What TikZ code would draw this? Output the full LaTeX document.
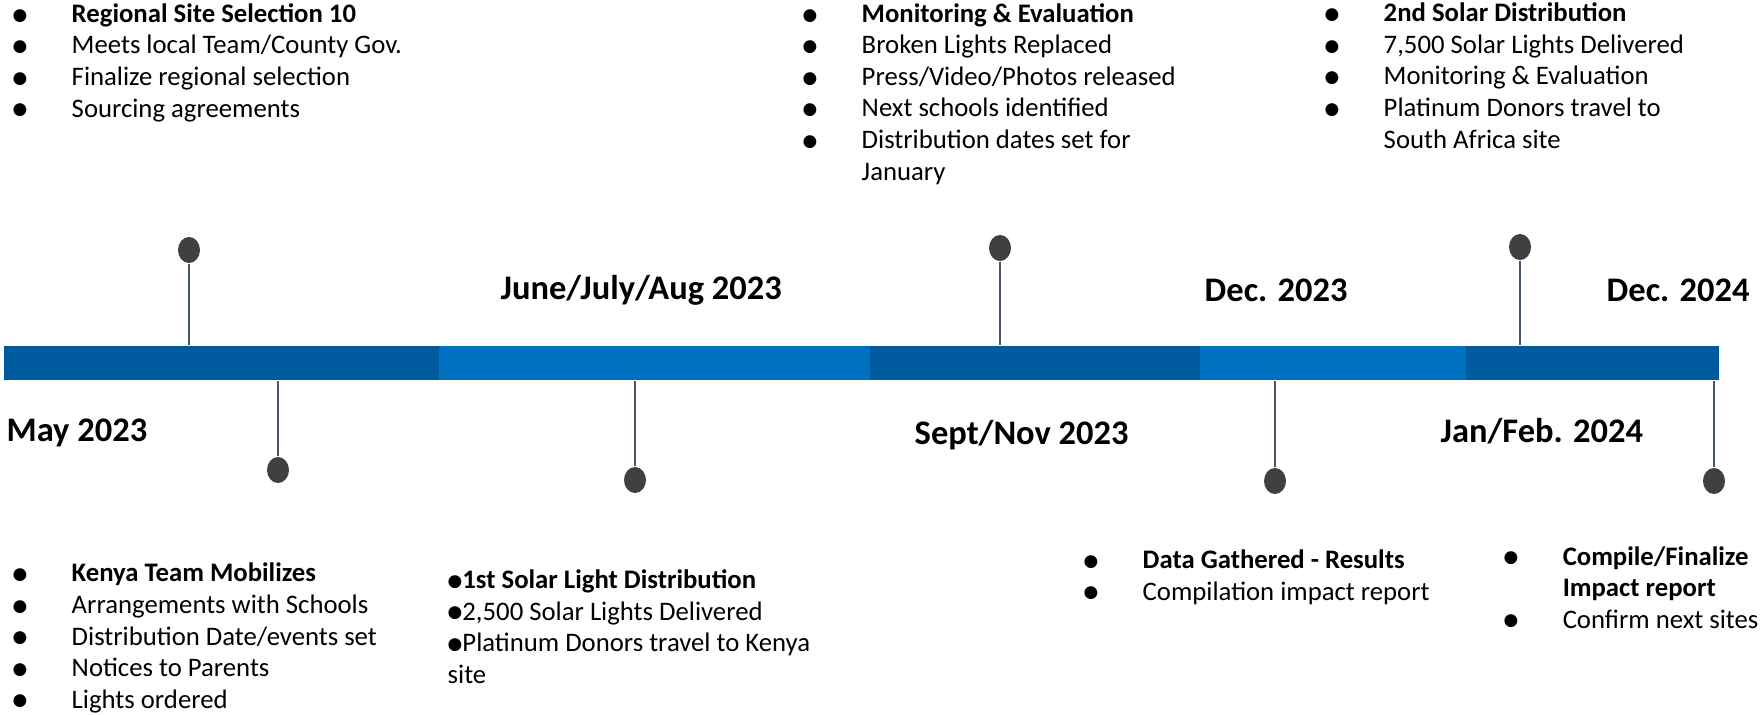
\documentclass[tikz,border=0pt]{standalone}
\usepackage{fontspec}
\setmainfont{Carlito}
\newfontfamily\symfont{DejaVu Sans}
\usetikzlibrary{shapes.geometric}
\definecolor{segdark}{HTML}{005A9E}
\definecolor{seglight}{HTML}{0070C0}
\definecolor{dotgray}{HTML}{404040}
\definecolor{stemgray}{HTML}{44546A}
\newcommand{\bul}{\raisebox{0.7pt}{\symfont\fontsize{4.8}{5}\selectfont ●}}
\newcommand{\itm}[1]{\makebox[0.59cm][l]{\bul}#1}
\newcommand{\cnt}[1]{\hspace*{0.59cm}#1}
\begin{document}
\begin{tikzpicture}[x=0.01cm,y=-0.01cm]
    \tikzstyle{seg}=[rectangle,inner sep=0,minimum height=0.34cm,anchor=west];
    \tikzstyle{dot}=[ellipse,fill=dotgray,inner sep=0,minimum width=0.22cm,minimum height=0.26cm];
    \tikzstyle{stem}=[draw=stemgray,line width=0.6pt];
    \tikzstyle{date}=[font=\fontsize{9.8}{11}\selectfont\bfseries,inner sep=0,anchor=base west];
    % lists sit on the baseline of their last line
    \tikzstyle{list}=[font=\fontsize{7.6}{8.96}\selectfont,align=left,inner sep=0,anchor=base west];
    \useasboundingbox (0,0) rectangle (1763,714);
    % timeline bar
    \node[seg,fill=segdark,minimum width=4.35cm] (s1) at (3,363) {};
    \node[seg,fill=seglight,minimum width=4.31cm] (s2) at (438,363) {};
    \node[seg,fill=segdark,minimum width=3.30cm] (s3) at (869,363) {};
    \node[seg,fill=seglight,minimum width=2.66cm] (s4) at (1199,363) {};
    \node[seg,fill=segdark,minimum width=2.53cm] (s5) at (1465,363) {};
    % pins
    \node[dot] (t1) at (189,250) {};
    \node[dot] (t2) at (1000,248) {};
    \node[dot] (t3) at (1520,247) {};
    \node[dot] (b1) at (278,470) {};
    \node[dot] (b2) at (635,480) {};
    \node[dot] (b3) at (1275,481) {};
    \node[dot] (b4) at (1714,481) {};
    \draw[stem] (t1) -- (t1 |- s1.north)
                (t2) -- (t2 |- s3.north)
                (t3) -- (t3 |- s5.north)
                (b1) -- (b1 |- s1.south)
                (b2) -- (b2 |- s2.south)
                (b3) -- (b3 |- s4.south)
                (b4) -- (b4 |- s5.south);
    % dates
    \node[date] (may) at (6,441) {May 2023};
    \node[date] (jun) at (500,299) {June/July/Aug 2023};
    \node[date] (sep) at (914,444) {Sept/Nov 2023};
    \node[date] (dec23) at (1204,301) {Dec. 2023};
    \node[date] (jan) at (1440,442) {Jan/Feb. 2024};
    \node[date] (dec24) at (1606,301) {Dec. 2024};
    % bullet lists
    \node[list] (l1) at (12,117) {\itm{\textbf{Regional Site Selection 10}}\\
        \itm{Meets local Team/County Gov.}\\
        \itm{Finalize regional selection}\\
        \itm{Sourcing agreements}};
    \node[list] (l2) at (802,180) {\itm{\textbf{Monitoring \& Evaluation}}\\
        \itm{Broken Lights Replaced}\\
        \itm{Press/Video/Photos released}\\
        \itm{Next schools identified}\\
        \itm{Distribution dates set for}\\
        \cnt{January}};
    \node[list] (l3) at (1324,148) {\itm{\textbf{2nd Solar Distribution}}\\
        \itm{7,500 Solar Lights Delivered}\\
        \itm{Monitoring \& Evaluation}\\
        \itm{Platinum Donors travel to}\\
        \cnt{South Africa site}};
    \node[list] (l4) at (12,708) {\itm{\textbf{Kenya Team Mobilizes}}\\
        \itm{Arrangements with Schools}\\
        \itm{Distribution Date/events set}\\
        \itm{Notices to Parents}\\
        \itm{Lights ordered}};
    \node[list] (l5) at (447,683) {\bul\textbf{1st Solar Light Distribution}\\
        \bul 2,500 Solar Lights Delivered\\
        \bul Platinum Donors travel to Kenya\\
        site};
    \node[list] (l6) at (1083,600) {\itm{\textbf{Data Gathered - Results}}\\
        \itm{Compilation impact report}};
    \node[list] (l7) at (1503,628) {\itm{\textbf{Compile/Finalize}}\\
        \cnt{\textbf{Impact report}}\\
        \itm{Confirm next sites}};
\end{tikzpicture}
\end{document}
